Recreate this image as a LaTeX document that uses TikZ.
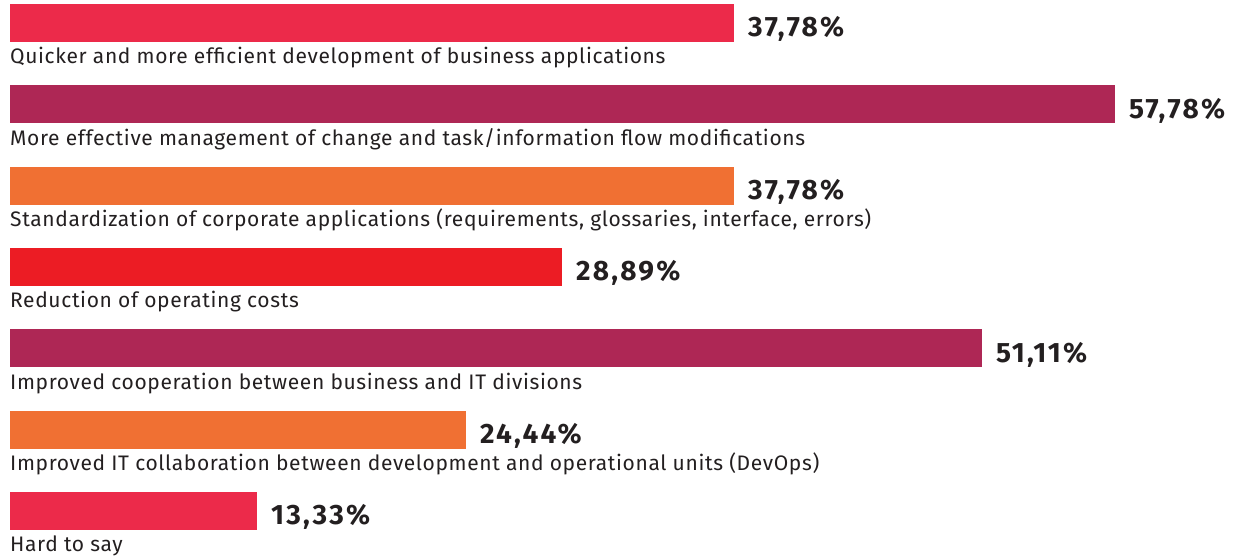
\documentclass[tikz,border=0pt]{standalone}
\usepackage{fontspec}
\setmainfont{Fira Sans}
\newfontfamily\catfont[LetterSpace=3]{Fira Sans}
\newfontfamily\pctfont[LetterSpace=8]{Fira Sans}
\definecolor{cpink}{HTML}{EC2A4A}
\definecolor{cmaroon}{HTML}{AE2755}
\definecolor{corange}{HTML}{F07033}
\definecolor{cred}{HTML}{EC1C24}
\definecolor{ctext}{HTML}{231F20}
\tikzset{
  barbox/.style={fill=#1, draw=none, inner sep=0pt, outer sep=0pt, anchor=north west, minimum height=38pt},
  catlabel/.style={anchor=base west, inner sep=0pt, text=ctext, font=\catfont\fontsize{21}{25}\selectfont},
  pctlabel/.style={anchor=base west, inner sep=0pt, text=ctext, font=\pctfont\fontsize{28}{32}\selectfont\bfseries},
}
\begin{document}
\begin{tikzpicture}[x=1pt,y=-1pt]
\useasboundingbox (0,0) rectangle (1233,559);
\foreach \i/\w/\c/\p/\t in {
  0/724.5/cpink/{37,78\%}/{Quicker and more efficient development of business applications},
  1/1105.5/cmaroon/{57,78\%}/{More effective management of change and task/information flow modifications},
  2/724.5/corange/{37,78\%}/{Standardization of corporate applications (requirements, glossaries, interface, errors)},
  3/552.5/cred/{28,89\%}/{Reduction of operating costs},
  4/972.5/cmaroon/{51,11\%}/{Improved cooperation between business and IT divisions},
  5/456.5/corange/{24,44\%}/{Improved IT collaboration between development and operational units (DevOps)},
  6/247.5/cpink/{13,33\%}/{Hard to say}}
{
  \pgfmathsetmacro{\ytop}{4+81.3*\i}
  \node[barbox=\c, minimum width=\w pt] (bar\i) at (9.5,\ytop) {};
  \node[pctlabel] (pct\i) at ([xshift=14pt,yshift=-33pt]bar\i.north east) {\p};
  \node[catlabel] (lab\i) at ([xshift=0.5pt,yshift=-60pt]bar\i.north west) {\t};
}
\end{tikzpicture}
\end{document}
